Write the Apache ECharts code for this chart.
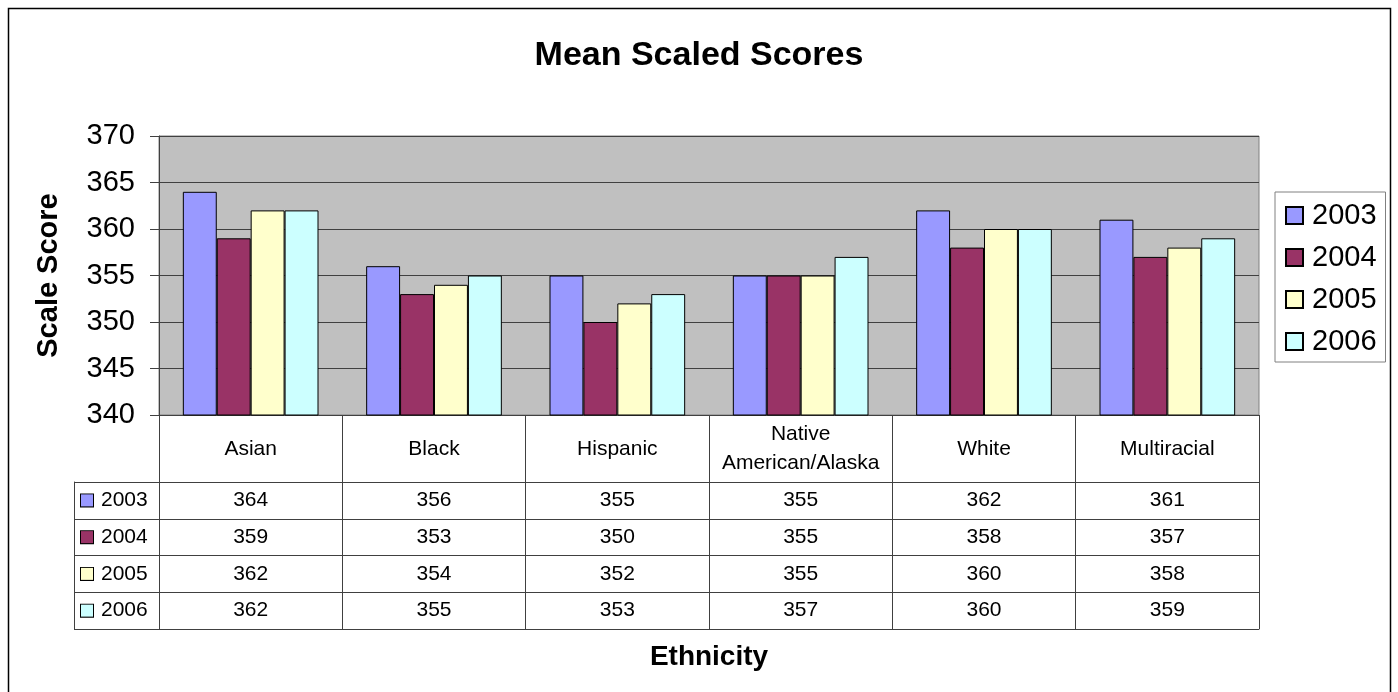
<!DOCTYPE html>
<html>
<head>
<meta charset="utf-8">
<script src="https://cdn.jsdelivr.net/npm/echarts@6/dist/echarts.min.js"></script>
<style>
html,body{margin:0;padding:0;background:#fff;}
#main{width:1398px;height:692px;}
</style>
</head>
<body>
<div id="main"></div>
<script>
const categories = ['Asian', 'Black', 'Hispanic', 'Native\nAmerican/Alaska', 'White', 'Multiracial'];
const years = ['2003', '2004', '2005', '2006'];
const scores2003 = [364, 356, 355, 355, 362, 361];
const scores2004 = [359, 353, 350, 355, 358, 357];
const scores2005 = [362, 354, 352, 355, 360, 358];
const scores2006 = [362, 355, 353, 357, 360, 359];
const yTicks = [340, 345, 350, 355, 360, 365, 370];

const seriesValues = [scores2003, scores2004, scores2005, scores2006];
const colors = ['#9999FF', '#993366', '#FFFFCC', '#CCFFFF'];
const FONT = '"Liberation Sans", Arial, sans-serif';
const LINE = '#404040';

const chart = echarts.init(document.getElementById('main'));

const barSeries = years.map((y, s) => ({
  name: y,
  type: 'bar',
  xAxisIndex: 0,
  yAxisIndex: 0,
  data: seriesValues[s],
  barGap: '0%',
  barCategoryGap: '26%',
  itemStyle: { color: colors[s], borderColor: '#000', borderWidth: 1 },
  emphasis: { disabled: true }
}));

const cellData = [];
years.forEach((y, s) => {
  categories.forEach((c, i) => {
    cellData.push([c, y, seriesValues[s][i]]);
  });
});

const rich = { t: { fontSize: 21, fontFamily: FONT, color: '#000', padding: [0, 0, 0, 8] } };
years.forEach((y, s) => {
  rich['sq' + s] = { width: 12, height: 12, backgroundColor: colors[s], borderColor: '#000', borderWidth: 1 };
});

chart.setOption({
  animation: false,
  textStyle: { fontFamily: FONT },
  title: {
    text: 'Mean Scaled Scores',
    left: 'center',
    top: 34,
    textStyle: { fontSize: 34, fontWeight: 'bold', color: '#000', fontFamily: FONT }
  },
  legend: {
    data: years,
    orient: 'vertical',
    left: 1275,
    top: 192,
    padding: [9, 9, 6, 10],
    itemWidth: 17,
    itemHeight: 17,
    itemGap: 13,
    borderColor: '#808080',
    borderWidth: 1,
    icon: 'rect',
    textStyle: { fontSize: 29, lineHeight: 28, color: '#000', fontFamily: FONT, padding: [0, 0, 0, 4] }
  },
  grid: [
    { left: 159, right: 139, top: 136, height: 279, show: true, backgroundColor: '#C0C0C0', borderColor: '#808080', borderWidth: 1 },
    { left: 159, right: 139, top: 482, height: 147 }
  ],
  xAxis: [
    {
      type: 'category', gridIndex: 0, data: categories,
      axisLine: { show: true, lineStyle: { color: LINE, width: 1 } },
      axisTick: { show: true, interval: 0, length: 67, lineStyle: { color: LINE } },
      axisLabel: { interval: 0, fontSize: 21, lineHeight: 29, color: '#000', margin: 34, verticalAlign: 'middle', fontFamily: FONT },
      splitLine: { show: false }
    },
    {
      type: 'category', gridIndex: 1, data: categories,
      name: 'Ethnicity', nameLocation: 'middle', nameGap: 14,
      nameTextStyle: { fontSize: 28, fontWeight: 'bold', color: '#000', fontFamily: FONT },
      axisLine: { show: true, lineStyle: { color: LINE } },
      axisTick: { show: false },
      axisLabel: { show: false },
      splitLine: { show: true, interval: 0, lineStyle: { color: LINE } }
    }
  ],
  yAxis: [
    {
      type: 'value', gridIndex: 0, min: yTicks[0], max: yTicks[yTicks.length - 1], interval: 5,
      name: 'Scale Score', nameLocation: 'middle', nameGap: 96,
      nameTextStyle: { fontSize: 29, fontWeight: 'bold', color: '#000', fontFamily: FONT },
      axisLine: { show: true, lineStyle: { color: LINE } },
      axisTick: { show: true, length: 9, lineStyle: { color: LINE } },
      axisLabel: { fontSize: 29, color: '#000', margin: 24, fontFamily: FONT },
      splitLine: { show: true, lineStyle: { color: LINE } }
    },
    {
      type: 'category', gridIndex: 1, data: years, inverse: true,
      axisLine: { show: true, lineStyle: { color: LINE } },
      axisTick: { show: true, interval: 0, length: 85, lineStyle: { color: LINE } },
      axisLabel: {
        interval: 0, margin: 78, align: 'left', fontSize: 21, color: '#000',
        formatter: (v, i) => '{sq' + i + '|}{t|' + v + '}',
        rich: rich
      },
      splitLine: { show: true, interval: 0, lineStyle: { color: LINE } }
    },
    {
      type: 'category', gridIndex: 1, data: years, inverse: true, position: 'left', offset: 85,
      axisLine: { show: true, lineStyle: { color: LINE } },
      axisTick: { show: false }, axisLabel: { show: false }, splitLine: { show: false }
    }
  ],
  series: barSeries.concat([{
    name: 'table',
    type: 'scatter',
    xAxisIndex: 1,
    yAxisIndex: 1,
    data: cellData,
    symbolSize: 1,
    itemStyle: { color: 'rgba(0,0,0,0)', opacity: 1 },
    label: { show: true, position: 'inside', formatter: p => String(p.value[2]), fontSize: 21, color: '#000', opacity: 1, fontFamily: FONT },
    emphasis: { disabled: true },
    silent: true
  }]),
  graphic: [{
    type: 'rect',
    shape: { x: 8.5, y: 8.5, width: 1382, height: 720 },
    style: { fill: 'none', stroke: '#000', lineWidth: 1.5 },
    silent: true
  }]
});
</script>
</body>
</html>
